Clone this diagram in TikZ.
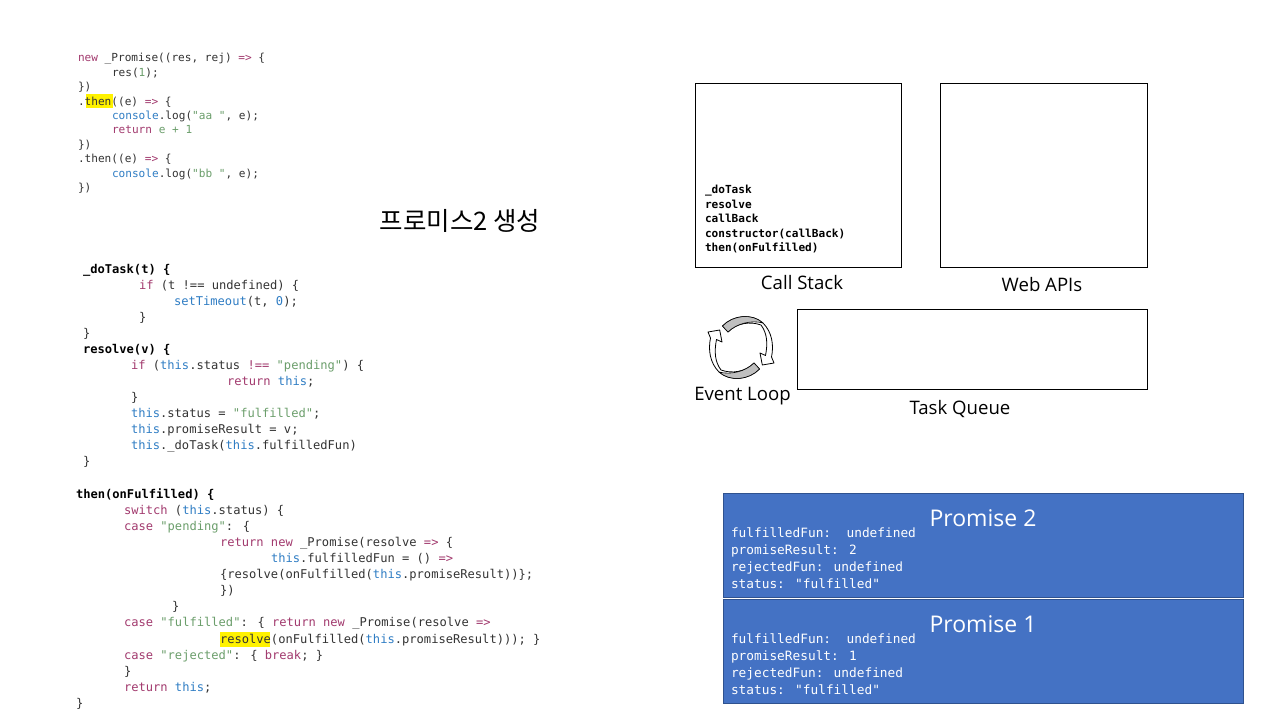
\documentclass[tikz,border=0pt]{standalone}
\usepackage{fontspec}
\setmainfont{Open Sans}
\newfontfamily\kofont{Noto Sans CJK KR}
\newfontfamily\codefont{DejaVu Sans Mono}
\definecolor{kw}{HTML}{A23A6E}
\definecolor{bl}{HTML}{2F7DC4}
\definecolor{gr}{HTML}{6B9E6B}
\definecolor{tx}{HTML}{333333}
\definecolor{pblue}{HTML}{4472C4}
\definecolor{pedge}{HTML}{2F528F}
\newcommand{\K}[1]{\textcolor{kw}{#1}}
\newcommand{\B}[1]{\textcolor{bl}{#1}}
\newcommand{\G}[1]{\textcolor{gr}{#1}}
\newcommand{\looparrow}{%
  \path[loopwhite] (722.5,326) .. controls (733,315) and (752,313) .. (763,323)
    .. controls (772,332) and (774,345) .. (771.5,357)
    -- (774,363) -- (762.3,365) -- (760,353) -- (765.5,355.5)
    .. controls (768,343) and (767,333) .. (761,325)
    .. controls (750,321) and (737,323) .. (728,332) -- cycle;
  \path[loopgray] (722.5,326) .. controls (733,315) and (752,313) .. (763,323)
    .. controls (752,320) and (737,323) .. (728,332) -- cycle;
}
\tikzset{
  x=1pt,y=-1pt,
  every node/.style={inner sep=0pt,outer sep=0pt},
  codea/.style={anchor=base west,text=tx,font=\codefont\fontsize{11.1}{13}\selectfont},
  codeb/.style={anchor=base west,text=tx,font=\codefont\fontsize{12.1}{14}\selectfont},
  codebold/.style={codeb,text=black,font=\codefont\bfseries\fontsize{12.1}{14}\selectfont},
  stackline/.style={anchor=base west,text=black,font=\codefont\bfseries\fontsize{11.1}{13}\selectfont},
  promline/.style={anchor=base west,text=white,font=\codefont\fontsize{12.8}{15}\selectfont},
  promtitle/.style={text=white,font=\fontsize{23}{28}\selectfont},
  panel/.style={draw=black,line width=0.9pt,fill=white},
  promisebox/.style={draw=pedge,line width=0.8pt,fill=pblue},
  caption/.style={text=black,font=\fontsize{18.6}{22}\selectfont},
  loopwhite/.style={draw=black,line width=0.8pt,fill=white,line join=round},
  loopgray/.style={draw=black,line width=0.6pt,fill=black!25,line join=round},
}
\begin{document}
\begin{tikzpicture}
\useasboundingbox (0,0) rectangle (1280,720);
\fill[white] (0,0) rectangle (1280,720);
% highlights
\fill[yellow] (85.5,94) rectangle (113,108);
\fill[yellow] (220,631.5) rectangle (270,647);
% first block
\node[codea] (a1) at (78,61) {\K{new} \_Promise((res, rej) \K{=>} \{};
\node[codea] (a2) at (112,76) {res(\G{1});};
\node[codea] (a3) at (78,90) {\})};
\node[codea] (a4) at (78,105) {.then((e) \K{=>} \{};
\node[codea] (a5) at (112,119) {\B{console}.log(\G{"aa "}, e);};
\node[codea] (a6) at (112,133) {\K{return} \G{e + 1}};
\node[codea] (a7) at (78,148) {\})};
\node[codea] (a8) at (78,162) {.then((e) \K{=>} \{};
\node[codea] (a9) at (112,177) {\B{console}.log(\G{"bb "}, e);};
\node[codea] (a10) at (78,191) {\})};
% title
\node[text=black,font=\kofont\fontsize{25.5}{30}\selectfont] (title) at (460,220.5) {프로미스2 생성};
% second block
\node[codebold] (b1) at (83,273) {\_doTask(t) \{};
\node[codeb] (b2) at (139,289) {\K{if} (t !== undefined) \{};
\node[codeb] (b3) at (174,305) {\B{setTimeout}(t, \B{0});};
\node[codeb] (b4) at (139,321) {\}};
\node[codeb] (b5) at (83,337) {\}};
\node[codebold] (b6) at (83,353) {resolve(v) \{};
\node[codeb] (b7) at (131,369) {\K{if} (\B{this}.status \K{!==} \G{"pending"}) \{};
\node[codeb] (b8) at (227,385) {\K{return} \B{this};};
\node[codeb] (b9) at (131,401) {\}};
\node[codeb] (b10) at (131,417) {\B{this}.status = \G{"fulfilled"};};
\node[codeb] (b11) at (131,433) {\B{this}.promiseResult = v;};
\node[codeb] (b12) at (131,449) {\B{this}.\_doTask(\B{this}.fulfilledFun)};
\node[codeb] (b13) at (83,465) {\}};
% third block
\node[codebold] (c1) at (76,498) {then(onFulfilled) \{};
\node[codeb] (c2) at (124,514) {\K{switch} (\B{this}.status) \{};
\node[codeb] (c3) at (124,530) {\K{case} \G{"pending"}: \{};
\node[codeb] (c4) at (220,546) {\K{return new} \_Promise(resolve \K{=>} \{};
\node[codeb] (c5) at (271,562) {\B{this}.fulfilledFun = () \K{=>}};
\node[codeb] (c6) at (220,578) {\{resolve(onFulfilled(\B{this}.promiseResult))\};};
\node[codeb] (c7) at (220,594) {\})};
\node[codeb] (c8) at (172,610) {\}};
\node[codeb] (c9) at (124,626) {\K{case} \G{"fulfilled"}: \{ \K{return new} \_Promise(resolve \K{=>}};
\node[codeb] (c10) at (220,643) {resolve(onFulfilled(\B{this}.promiseResult))); \}};
\node[codeb] (c11) at (124,659) {\K{case} \G{"rejected"}: \{ \K{break}; \}};
\node[codeb] (c12) at (124,675) {\}};
\node[codeb] (c13) at (124,691) {\K{return} \B{this};};
\node[codeb] (c14) at (76,707) {\}};
% panels
\node[panel,minimum width=206pt,minimum height=184pt] (stack) at (798.5,175) {};
\node[panel,minimum width=207pt,minimum height=184pt] (apis) at (1043.5,175) {};
\node[panel,minimum width=350pt,minimum height=80pt] (queue) at (972,349) {};
\node[stackline] (s1) at (705,193) {\_doTask};
\node[stackline] (s2) at (705,208) {resolve};
\node[stackline] (s3) at (705,222) {callBack};
\node[stackline] (s4) at (705,237) {constructor(callBack)};
\node[stackline] (s5) at (705,251) {then(onFulfilled)};
\node[caption] (l1) at (802,283) {Call Stack};
\node[caption] (l2) at (1042,285) {Web APIs};
\node[caption] (l3) at (960,409) {Task Queue};
\node[caption] (l4) at (742.5,396) {Event Loop};
% event loop icon
\looparrow
\begin{scope}[rotate around={180:(741,347.5)}]
\looparrow
\end{scope}
% promises
\node[promisebox,minimum width=520.5pt,minimum height=104.5pt] (p2) at (983.5,545.5) {};
\node[promisebox,minimum width=520.5pt,minimum height=104.5pt] (p1) at (983.5,651.5) {};
\node[promtitle] (p2t) at (983,518) {Promise 2};
\node[promtitle] (p1t) at (983,624) {Promise 1};
\node[promline] (p2a) at (731,537) {fulfilledFun:\ \ undefined};
\node[promline] (p2b) at (731,554) {promiseResult: 2};
\node[promline] (p2c) at (731,571) {rejectedFun: undefined};
\node[promline] (p2d) at (731,588) {status: "fulfilled"};
\node[promline] (p1a) at (731,643) {fulfilledFun:\ \ undefined};
\node[promline] (p1b) at (731,660) {promiseResult: 1};
\node[promline] (p1c) at (731,677) {rejectedFun: undefined};
\node[promline] (p1d) at (731,694) {status: "fulfilled"};
\end{tikzpicture}
\end{document}
